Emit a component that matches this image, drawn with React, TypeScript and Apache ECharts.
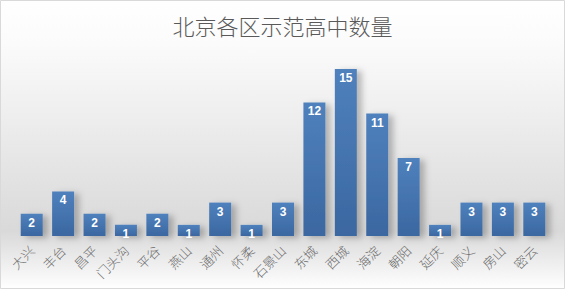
import React, { useEffect, useRef } from "react";
import * as echarts from "echarts";

const categories = ["大兴", "丰台", "昌平", "门头沟", "平谷", "燕山", "通州", "怀柔", "石景山", "东城", "西城", "海淀", "朝阳", "延庆", "顺义", "房山", "密云"];
const counts = [2, 4, 2, 1, 2, 1, 3, 1, 3, 12, 15, 11, 7, 1, 3, 3, 3];
const titleText = "北京各区示范高中数量";

export default function App() {
  const ref = useRef<HTMLDivElement>(null);
  useEffect(() => {
    if (!ref.current) return;
    const chart = echarts.init(ref.current, null, { renderer: "svg" });
    chart.setOption({
      animation: false,
      backgroundColor: new echarts.graphic.LinearGradient(0, 0, 0, 1, [
        { offset: 0, color: "#ffffff" },
        { offset: 0.15, color: "#fbfbfb" },
        { offset: 0.8, color: "#d9d9d9" },
        { offset: 1, color: "#ffffff" },
      ]),
      title: {
        text: titleText,
        left: "center",
        top: 9,
        textStyle: { fontSize: 22, fontWeight: 300, color: "#595959", fontFamily: "Noto Sans CJK SC" },
      },
      graphic: [
        {
          type: "rect",
          shape: { x: 0.5, y: 0.5, width: 564, height: 288 },
          style: { fill: "none", stroke: "#d9d9d9", lineWidth: 1 },
          silent: true,
        },
      ],
      grid: { left: 16, right: 15, top: 69, bottom: 53, containLabel: false },
      xAxis: {
        type: "category",
        data: categories,
        axisLine: { show: false },
        axisTick: { show: false },
        axisLabel: {
          rotate: 45,
          margin: 12,
          interval: 0,
          color: "#6a6a6a",
          fontSize: 13,
          fontWeight: 300,
          fontFamily: "Noto Sans CJK SC",
        },
      },
      yAxis: {
        type: "value",
        min: 0,
        max: 15,
        show: false,
        splitLine: { show: false },
      },
      series: [
        {
          type: "bar",
          data: counts,
          barCategoryGap: "30%",
          itemStyle: {
            color: new echarts.graphic.LinearGradient(0, 0, 0, 1, [
              { offset: 0, color: "#4f81bd" },
              { offset: 1, color: "#3b67a0" },
            ]),
            shadowColor: "rgba(0,0,0,0.25)",
            shadowBlur: 6,
            shadowOffsetX: 5,
            shadowOffsetY: 2,
          },
          label: {
            show: true,
            position: "insideTop",
            distance: 3,
            color: "#ffffff",
            fontWeight: "bold",
            fontSize: 12,
            fontFamily: "Liberation Sans",
          },
        },
      ],
    });
    return () => chart.dispose();
  }, []);
  return (
    <div style={{ position: "absolute", left: 0, top: 0, width: 565, height: 289 }}>
      <div ref={ref} style={{ width: 565, height: 289 }} />
    </div>
  );
}
